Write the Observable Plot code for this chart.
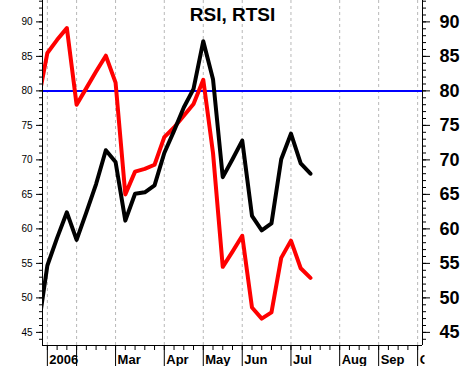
<!DOCTYPE html>
<html><head><meta charset="utf-8">
<script src="https://cdn.jsdelivr.net/npm/d3@7"></script>
<script src="https://cdn.jsdelivr.net/npm/@observablehq/plot@0.6"></script>
<style>html,body{margin:0;padding:0;background:#fff}svg{display:block}</style>
</head><body><div id="chart"></div>
<script>
// week index (0 = first week of Jan 2006)
const weeks = [-1,0,1,2,3,4,5,6,7,8,9,10,11,12,13,14,15,16,17,18,19,20,21,22,23,24,25,26,27];
const rsiRed = [78.1,85.5,87.4,89.1,78.0,80.4,82.8,85.1,81.2,65.0,68.3,68.7,69.3,73.3,74.7,76.4,78.1,81.6,71.0,54.5,56.7,59.0,48.6,47.0,47.9,55.8,58.3,54.3,52.9];
const rsiBlack = [45.0,54.7,58.7,62.4,58.4,62.4,66.5,71.4,69.7,61.2,65.1,65.3,66.3,71.0,74.2,77.6,80.3,87.2,81.7,67.5,70.1,72.8,61.9,59.8,60.8,70.1,73.8,69.5,68.0];
const level = [80];
const monthWeeks = [0,3,7,12,16,20,25,30,34,38];
const monthLabels = ["2006","","Mar","Apr","May","Jun","Jul","Aug","Sep","Oct"];
const yMajor = [45,50,55,60,65,70,75,80,85,90];
const yMinor = d3.range(44, 94);
const weekTicks = d3.range(0, 39);
const xDomain = [-0.5, 38.5];
const yDomain = [43.1, 93.1];
const title = ["RSI, RTSI"];

const redData = weeks.map((w, i) => ({w, v: rsiRed[i]}));
const blackData = weeks.map((w, i) => ({w, v: rsiBlack[i]}));

const plot = Plot.plot({
  width: 463, height: 366,
  marginLeft: 42, marginRight: 41, marginTop: 0, marginBottom: 21,
  x: {domain: xDomain, axis: null},
  y: {domain: yDomain, axis: null},
  style: {fontFamily: "'Liberation Sans', Arial, sans-serif", background: "#fff", color: "#000"},
  marks: [
    Plot.ruleX(monthWeeks, {stroke: "#b8b8b8", strokeDasharray: "3,3", strokeWidth: 1}),
    Plot.ruleY(level, {stroke: "#0000ff", strokeWidth: 2}),
    Plot.line(redData, {x: "w", y: "v", stroke: "#ff0000", strokeWidth: 4, clip: true}),
    Plot.line(blackData, {x: "w", y: "v", stroke: "#000000", strokeWidth: 4, clip: true}),
    Plot.ruleX(xDomain, {stroke: "#000"}),
    Plot.ruleY([yDomain[0]], {stroke: "#000"}),
    // left axis
    Plot.axisY({anchor: "left", ticks: yMinor, tickSize: 3, tickFormat: () => "", label: null}),
    Plot.axisY({anchor: "left", ticks: yMajor, tickSize: 6, tickPadding: 4, fontSize: 10, label: null}),
    // right axis
    Plot.axisY({anchor: "right", ticks: yMinor, tickSize: 3, tickFormat: () => "", label: null}),
    Plot.axisY({anchor: "right", ticks: yMajor, tickSize: 7, tickPadding: 10, fontSize: 18, fontWeight: "bold", label: null}),
    // bottom axis
    Plot.axisX({anchor: "bottom", ticks: weekTicks, tickSize: 5, tickFormat: () => "", label: null}),
    Plot.axisX({anchor: "bottom", ticks: monthWeeks, tickSize: 21, tickFormat: () => "", label: null}),
    Plot.axisX({anchor: "bottom", ticks: monthWeeks, tickSize: 0, tickPadding: 9, fontSize: 13, fontWeight: "bold",
      textAnchor: "start", dx: 2, label: null, tickFormat: (d) => monthLabels[monthWeeks.indexOf(d)]}),
    Plot.text(title, {frameAnchor: "top", lineAnchor: "top", dy: 7, fontSize: 19, fontWeight: "bold"})
  ]
});

// clip the month labels at the right edge of the frame
const xs = plot.scale("x");
const rightEdge = xs.apply(xDomain[1]);
const ns = "http://www.w3.org/2000/svg";
const defs = document.createElementNS(ns, "defs");
const cp = document.createElementNS(ns, "clipPath");
cp.setAttribute("id", "xlabclip");
const r = document.createElementNS(ns, "rect");
r.setAttribute("x", 0); r.setAttribute("y", 0);
r.setAttribute("width", rightEdge); r.setAttribute("height", 366);
cp.appendChild(r); defs.appendChild(cp); plot.insertBefore(defs, plot.firstChild);
plot.querySelectorAll('[aria-label="x-axis tick label"]').forEach(g => g.setAttribute("clip-path", "url(#xlabclip)"));

document.getElementById("chart").appendChild(plot);
</script>
</body></html>
